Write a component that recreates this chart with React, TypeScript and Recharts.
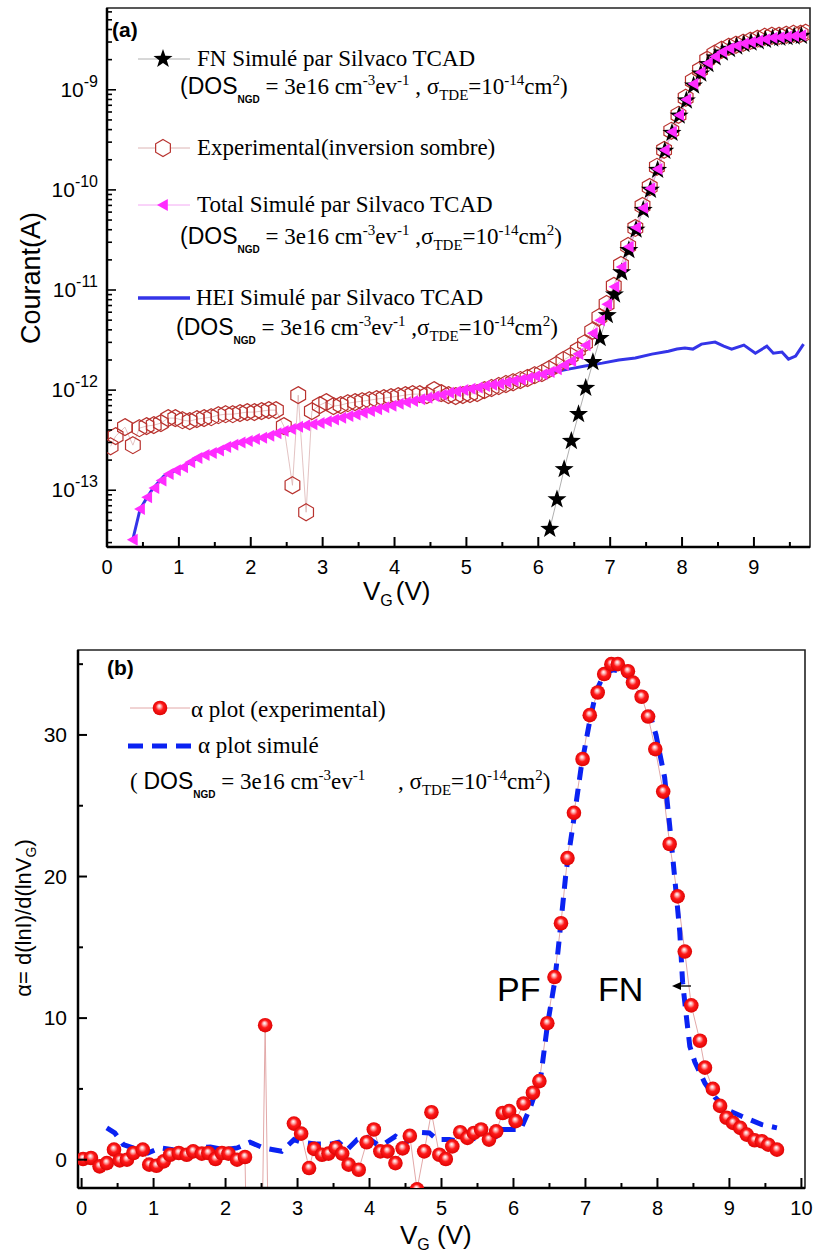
import React from 'react';
import { ComposedChart, Line, XAxis, YAxis, ReferenceArea } from 'recharts';

// ---------- (a) Courant (A) vs VG ----------
const expV = [0.05, 0.12, 0.25, 0.36, 0.45, 0.55, 0.65, 0.75, 0.85, 0.95, 1.05, 1.15, 1.25, 1.35, 1.45, 1.55, 1.65, 1.75, 1.85, 1.95, 2.05, 2.15, 2.25, 2.35, 2.46, 2.58, 2.66, 2.77, 2.85, 2.96, 3.05, 3.15, 3.25, 3.35, 3.45, 3.55, 3.65, 3.75, 3.85, 3.95, 4.05, 4.15, 4.25, 4.35, 4.45, 4.55, 4.65, 4.75, 4.85, 4.95, 5.05, 5.15, 5.25, 5.35, 5.45, 5.55, 5.65, 5.75, 5.85, 5.95, 6.05, 6.15, 6.25, 6.35, 6.45, 6.55, 6.65, 6.75, 6.85, 6.95, 7.05, 7.15, 7.25, 7.35, 7.45, 7.55, 7.65, 7.75, 7.85, 7.95, 8.05, 8.15, 8.25, 8.35, 8.45, 8.55, 8.65, 8.75, 8.85, 8.95, 9.05, 9.15, 9.25, 9.35, 9.45, 9.55, 9.65, 9.72];
const expI = [2.75e-13, 3.47e-13, 4.27e-13, 2.82e-13,
  4.17e-13, 4.37e-13, 4.47e-13, 4.68e-13, 5.25e-13, 5.25e-13, 5.01e-13, 4.9e-13, 5.13e-13, 5.25e-13, 5.37e-13, 5.62e-13, 5.75e-13, 5.75e-13, 5.89e-13, 6.03e-13, 6.03e-13, 6.17e-13, 6.31e-13, 6.31e-13,
  4.37e-13, 1.12e-13, 8.91e-13, 6.03e-14, 6.17e-13, 7.08e-13,
  7.59e-13, 6.92e-13, 7.08e-13, 7.41e-13, 7.59e-13, 7.76e-13, 7.94e-13, 8.13e-13, 8.32e-13, 8.51e-13,
  8.71e-13, 8.91e-13, 9.12e-13, 9.12e-13, 8.91e-13, 1.0e-12, 9.33e-13, 8.91e-13, 8.71e-13, 8.91e-13,
  9.12e-13, 9.33e-13, 1.0e-12, 1.05e-12, 1.1e-12, 1.15e-12, 1.2e-12, 1.26e-12, 1.32e-12, 1.41e-12,
  1.48e-12, 1.62e-12, 1.78e-12, 2.0e-12, 2.19e-12, 2.51e-12, 2.95e-12, 3.89e-12, 5.37e-12, 7.24e-12,
  1.1e-11, 1.78e-11, 2.75e-11, 4.17e-11, 6.92e-11, 1.07e-10, 1.7e-10, 2.51e-10, 3.89e-10, 5.62e-10,
  8.32e-10, 1.23e-9, 1.58e-9, 2.0e-9, 2.29e-9, 2.51e-9, 2.69e-9, 2.82e-9, 2.95e-9, 3.09e-9,
  3.24e-9, 3.39e-9, 3.47e-9, 3.47e-9, 3.55e-9, 3.63e-9, 3.63e-9, 3.72e-9];

const heiV = [0.36, 0.46, 0.55, 0.63, 0.79, 1.02, 1.3, 1.55, 1.77, 2.0, 2.23, 2.45, 2.7, 2.95, 3.16, 3.4, 3.63, 3.85, 4.09, 4.3, 4.56, 4.8, 5.02, 5.25, 5.49, 5.72, 5.95, 6.2, 6.42, 6.65, 6.89, 7.12, 7.35, 7.58, 7.81, 7.93, 8.04, 8.15, 8.27, 8.46, 8.58, 8.69, 8.86, 9.02, 9.18, 9.27, 9.39, 9.48, 9.58, 9.69];
const heiI = [3.24e-14, 6.46e-14, 8.32e-14, 1.02e-13, 1.38e-13, 1.66e-13, 2.19e-13, 2.51e-13, 2.88e-13, 3.16e-13, 3.47e-13, 3.89e-13, 4.37e-13, 4.68e-13, 5.13e-13, 5.62e-13, 6.17e-13, 6.76e-13, 7.41e-13, 7.94e-13, 8.71e-13, 9.55e-13, 1.02e-12, 1.1e-12, 1.17e-12, 1.26e-12, 1.38e-12, 1.51e-12, 1.62e-12, 1.74e-12, 1.86e-12, 2.0e-12, 2.09e-12, 2.29e-12, 2.45e-12, 2.57e-12, 2.63e-12, 2.57e-12, 2.88e-12, 3.02e-12, 2.75e-12, 2.57e-12, 2.82e-12, 2.34e-12, 2.75e-12, 2.34e-12, 2.4e-12, 2.04e-12, 2.19e-12, 2.88e-12];

const totV = [0.36, 0.46, 0.56, 0.66, 0.76, 0.86, 0.96, 1.06, 1.16, 1.26, 1.36, 1.46, 1.56, 1.66, 1.76, 1.86, 1.96, 2.06, 2.16, 2.26, 2.36, 2.46, 2.56, 2.66, 2.76, 2.86, 2.96, 3.06, 3.16, 3.26, 3.36, 3.46, 3.56, 3.66, 3.76, 3.86, 3.96, 4.06, 4.16, 4.26, 4.36, 4.46, 4.56, 4.66, 4.76, 4.86, 4.96, 5.06, 5.16, 5.26, 5.36, 5.46, 5.56, 5.66, 5.76, 5.86, 5.96, 6.06, 6.16, 6.26, 6.36, 6.46, 6.56, 6.66, 6.76, 6.86, 6.96, 7.06, 7.16, 7.26, 7.36, 7.46, 7.56, 7.66, 7.76, 7.86, 7.96, 8.06, 8.16, 8.26, 8.36, 8.46, 8.56, 8.66, 8.76, 8.86, 8.96, 9.06, 9.16, 9.26, 9.36, 9.46, 9.56, 9.66];
const totI = [3.2e-14, 6.5e-14, 8.5e-14, 1.05e-13, 1.25e-13, 1.45e-13, 1.58e-13, 1.7e-13, 1.9e-13, 2.1e-13,
  2.25e-13, 2.35e-13, 2.5e-13, 2.7e-13, 2.85e-13, 3.0e-13, 3.1e-13, 3.25e-13, 3.35e-13, 3.5e-13,
  3.7e-13, 3.9e-13, 4.1e-13, 4.3e-13, 4.45e-13, 4.55e-13, 4.7e-13, 4.9e-13, 5.1e-13, 5.3e-13,
  5.5e-13, 5.7e-13, 5.95e-13, 6.2e-13, 6.45e-13, 6.75e-13, 7.0e-13, 7.3e-13, 7.55e-13, 7.8e-13,
  8.1e-13, 8.4e-13, 8.7e-13, 9.0e-13, 9.4e-13, 9.7e-13, 1.0e-12, 1.03e-12, 1.06e-12, 1.1e-12,
  1.13e-12, 1.16e-12, 1.2e-12, 1.24e-12, 1.28e-12, 1.33e-12, 1.38e-12, 1.44e-12, 1.52e-12, 1.62e-12,
  1.78e-12, 1.95e-12, 2.3e-12, 2.8e-12, 3.7e-12, 5.0e-12, 7.2e-12, 1.08e-11, 1.7e-11, 2.7e-11,
  4.2e-11, 6.6e-11, 1.04e-10, 1.62e-10, 2.5e-10, 3.8e-10, 5.6e-10, 8.0e-10, 1.15e-9, 1.5e-9,
  1.85e-9, 2.15e-9, 2.4e-9, 2.6e-9, 2.75e-9, 2.9e-9, 3.0e-9, 3.1e-9, 3.2e-9, 3.3e-9,
  3.35e-9, 3.4e-9, 3.45e-9, 3.5e-9];

const fnV = [6.16, 6.26, 6.36, 6.46, 6.56, 6.66, 6.76, 6.86, 6.96, 7.06, 7.16, 7.26, 7.36, 7.46, 7.56, 7.66, 7.76, 7.86, 7.96, 8.06, 8.16, 8.26, 8.36, 8.46, 8.56, 8.66, 8.76, 8.86, 8.96, 9.06, 9.16, 9.26, 9.36, 9.46, 9.56, 9.66];
const fnI = [4.1e-14, 8.1e-14, 1.62e-13, 3.1e-13, 5.75e-13, 1.05e-12, 1.9e-12, 3.3e-12, 5.6e-12, 9.0e-12,
  1.5e-11, 2.5e-11, 4.0e-11, 6.3e-11, 1.0e-10, 1.58e-10, 2.45e-10, 3.7e-10, 5.5e-10, 7.8e-10,
  1.1e-9, 1.45e-9, 1.8e-9, 2.1e-9, 2.35e-9, 2.55e-9, 2.7e-9, 2.85e-9, 2.95e-9, 3.05e-9,
  3.15e-9, 3.25e-9, 3.3e-9, 3.35e-9, 3.4e-9, 3.45e-9];

const xTicksA = [0, 0.5, 1, 1.5, 2, 2.5, 3, 3.5, 4, 4.5, 5, 5.5, 6, 6.5, 7, 7.5, 8, 8.5, 9, 9.5];
const yTicksA = [3e-14, 4e-14, 5e-14, 6e-14, 7e-14, 8e-14, 9e-14,
  1e-13, 2e-13, 3e-13, 4e-13, 5e-13, 6e-13, 7e-13, 8e-13, 9e-13,
  1e-12, 2e-12, 3e-12, 4e-12, 5e-12, 6e-12, 7e-12, 8e-12, 9e-12,
  1e-11, 2e-11, 3e-11, 4e-11, 5e-11, 6e-11, 7e-11, 8e-11, 9e-11,
  1e-10, 2e-10, 3e-10, 4e-10, 5e-10, 6e-10, 7e-10, 8e-10, 9e-10,
  1e-9, 2e-9, 3e-9, 4e-9, 5e-9, 6e-9];

// ---------- (b) alpha = d(lnI)/d(lnVG) ----------
const alphaExpV = [0.02, 0.13, 0.25, 0.35, 0.45, 0.53, 0.63, 0.72, 0.85, 0.94, 1.04, 1.14, 1.23, 1.35, 1.46, 1.55, 1.67, 1.76, 1.86, 1.95, 2.04, 2.16, 2.27, 2.36, 2.45, 2.55, 2.65, 2.75, 2.85, 2.95, 3.05, 3.16, 3.23, 3.34, 3.43, 3.53, 3.62, 3.71, 3.85, 3.96, 4.06, 4.15, 4.25, 4.36, 4.46, 4.56, 4.66, 4.76, 4.86, 4.97, 5.06, 5.15, 5.26, 5.36, 5.45, 5.55, 5.66, 5.76, 5.85, 5.94, 6.03, 6.14, 6.27, 6.36, 6.47, 6.57, 6.66, 6.75, 6.84, 6.96, 7.06, 7.17, 7.26, 7.36, 7.45, 7.59, 7.66, 7.78, 7.87, 7.97, 8.08, 8.17, 8.28, 8.38, 8.47, 8.59, 8.66, 8.77, 8.87, 8.96, 9.05, 9.15, 9.24, 9.35, 9.45, 9.54, 9.66];
const alphaExp = [0.05, 0.12, -0.47, -0.24, 0.71, -0.05, 0, 0.47, 0.71, -0.35,
  -0.43, -0.12, 0.35, 0.47, 0.35, 0.59, 0.43, 0.47, 0.05, 0.47,
  0.43, 0, 0.19, -25, -25, 9.5, -25, -25, null, 2.55,
  1.84, -0.59, 0.76, 0.35, 0.43, 0.83, 0.43, -0.35, -0.71, 1.23,
  2.13, 0.59, 0.59, -0.24, 0.8, 1.68, -2.1, 0.59, 3.35, 0.35,
  0.05, 0.94, 1.94, 1.54, 1.89, 2.13, 1.42, 2.0, 3.3, 3.43,
  2.72, 3.97, 4.73, 5.55, 9.64, 12.9, 16.7, 21.3, 24.5, 28.3,
  31.4, 33, 34.3, 35, 35, 34.5, 33.7, 32.7, 31.3, 29,
  26, 22.3, 18.6, 14.7, 10.9, 8.4, 6.5, 5, 3.8, 2.96,
  2.6, 2.25, 1.77, 1.37, 1.3, 1.06, 0.71];

const alphaSimV = [0.35, 0.46, 0.58, 0.79, 0.92, 1.09, 1.27, 1.46, 1.65, 1.79, 1.97, 2.16, 2.34, 2.53, 2.78, 2.95, 3.06, 3.27, 3.46, 3.57, 3.69, 3.83, 3.97, 4.11, 4.22, 4.36, 4.5, 4.69, 4.83, 4.94, 5.11, 5.25, 5.43, 5.59, 5.76, 5.85, 6.1, 6.24, 6.38, 6.47, 6.57, 6.62, 6.73, 6.84, 6.94, 7.06, 7.15, 7.26, 7.38, 7.52, 7.68, 7.87, 7.98, 8.1, 8.17, 8.24, 8.31, 8.35, 8.4, 8.45, 8.52, 8.66, 8.8, 8.98, 9.17, 9.45, 9.66];
const alphaSim = [2.25, 1.9, 1.06, 0.7, 0.47, 0.83, 0.7, 0.59, 0.83, 0.9, 0.7, 0.83, 1.23, 0.83, 0.59, 1.42, 1.23, 1.1, 1.1, 1.23, 0.7, 1.42, 1.58, 1.06, 1.18, 1.65, 1.18, 1.94, 1.89, 1.42, 1.42, 1.3, 1.54, 1.3, 1.65, 2.13, 2.13, 3.78, 5.9, 9.45, 12.5, 14.8, 20.3, 24.1, 27.7, 31, 33.1, 34.3, 34.6, 34.5, 33.6, 31.9, 30, 27, 23.6, 19.9, 16.1, 12.5, 10.2, 8.0, 6.9, 5.4, 4.4, 3.5, 3.07, 2.48, 2.25];

const xTicksB = [0, 0.5, 1, 1.5, 2, 2.5, 3, 3.5, 4, 4.5, 5, 5.5, 6, 6.5, 7, 7.5, 8, 8.5, 9, 9.5, 10];
const yTicksB = [0, 5, 10, 15, 20, 25, 30, 35];

const expData = expV.map((v, k) => ({ v, i: expI[k] }));
const heiData = heiV.map((v, k) => ({ v, i: heiI[k] }));
const totData = totV.map((v, k) => ({ v, i: totI[k] }));
const fnData = fnV.map((v, k) => ({ v, i: fnI[k] }));
const alphaExpData = alphaExpV.map((v, k) => ({ v, a: alphaExp[k] }));
const alphaSimData = alphaSimV.map((v, k) => ({ v, a: alphaSim[k] }));

const serif = '"Liberation Serif", "Times New Roman", serif';
const sans = '"Liberation Sans", Arial, Helvetica, sans-serif';

const starPts = (cx: number, cy: number, R: number, r: number) => {
  const p: string[] = [];
  for (let k = 0; k < 10; k++) {
    const rad = k % 2 === 0 ? R : r;
    const ang = -Math.PI / 2 + (k * Math.PI) / 5;
    p.push(`${cx + rad * Math.cos(ang)},${cy + rad * Math.sin(ang)}`);
  }
  return p.join(' ');
};
const hexPts = (cx: number, cy: number, R: number) => {
  const p: string[] = [];
  for (let k = 0; k < 6; k++) {
    const ang = -Math.PI / 2 + (k * Math.PI) / 3;
    p.push(`${cx + R * Math.cos(ang)},${cy + R * Math.sin(ang)}`);
  }
  return p.join(' ');
};
const triPts = (cx: number, cy: number, s: number) =>
  `${cx - s},${cy} ${cx + s * 0.8},${cy - s} ${cx + s * 0.8},${cy + s}`;

const hexColor = '#b8322e';
const magenta = '#ff2cff';
const blue = '#3434e8';
const dashBlue = '#0a22f2';

const empty = (p: any, tag: string) => <g key={`${tag}${p.index}`} />;
const renderStar = (p: any) =>
  p.cx == null || p.cy == null ? empty(p, 's') : <polygon key={`s${p.index}`} points={starPts(p.cx, p.cy, 10, 4)} fill="#000" />;
const renderHex = (p: any) =>
  p.cx == null || p.cy == null ? empty(p, 'h') : <polygon key={`h${p.index}`} points={hexPts(p.cx, p.cy, 8.5)} fill="none" stroke={hexColor} strokeWidth={1.2} />;
const renderTri = (p: any) =>
  p.cx == null || p.cy == null ? empty(p, 't') : <polygon key={`t${p.index}`} points={triPts(p.cx, p.cy, 6)} fill={magenta} />;
const renderBall = (p: any) =>
  p.cx == null || p.cy == null || p.payload?.a == null || p.payload.a < -3
    ? empty(p, 'b')
    : <circle key={`b${p.index}`} cx={p.cx} cy={p.cy} r={7.3} fill="url(#ballGrad)" />;

const XTick = ({ x, y, payload }: any) => {
  const v = payload.value;
  const major = Math.abs(v - Math.round(v)) < 1e-6;
  return (
    <g>
      <line x1={x} x2={x} y1={y} y2={y - (major ? 10 : 5)} stroke="#000" strokeWidth={2} />
      {major && (
        <text x={x} y={y + 27} textAnchor="middle" fontSize={20} fontFamily={sans} fill="#000">{v}</text>
      )}
    </g>
  );
};

const LogTick = ({ x, y, payload }: any) => {
  const lg = Math.log10(payload.value);
  const e = Math.round(lg);
  const major = Math.abs(lg - e) < 1e-6;
  return (
    <g>
      <line x1={x} x2={x + (major ? 9 : 5)} y1={y} y2={y} stroke="#000" strokeWidth={1.6} />
      {major && (
        <text x={x - 9} y={y + 7} textAnchor="end" fontSize={21} fontFamily={sans} fill="#000">
          10<tspan dy={-10} fontSize={16}>{String(e)}</tspan>
        </text>
      )}
    </g>
  );
};

const LinTick = ({ x, y, payload }: any) => {
  const v = payload.value;
  const major = v % 10 === 0;
  return (
    <g>
      <line x1={x} x2={x + (major ? 9 : 5)} y1={y} y2={y} stroke="#000" strokeWidth={2} />
      {major && (
        <text x={x - 11} y={y + 7} textAnchor="end" fontSize={21} fontFamily={sans} fill="#000">{v}</text>
      )}
    </g>
  );
};

const Sup = ({ children, size = 15, rise = 9, family }: any) => (
  <span style={{ fontSize: size, position: 'relative', top: -rise, fontFamily: family }}>{children}</span>
);
const Sub = ({ children, size = 15, drop = 6, family, bold }: any) => (
  <span style={{ fontSize: size, position: 'relative', top: drop, fontFamily: family, fontWeight: bold ? 'bold' : 'normal' }}>{children}</span>
);

const abs = (left: number, top: number, extra: React.CSSProperties = {}): React.CSSProperties => ({
  position: 'absolute', left, top, whiteSpace: 'nowrap', color: '#000', ...extra,
});
const legendText: React.CSSProperties = { fontFamily: serif, fontSize: 23, lineHeight: '23px' };

const DosLine = ({ left, top, comma }: { left: number; top: number; comma: string }) => (
  <div style={abs(left, top, legendText)}>
    <span style={{ fontFamily: sans, fontSize: 23 }}>(DOS</span>
    <Sub size={10} drop={9} family={sans} bold>NGD</Sub>
    {' = 3e16 cm'}
    <Sup>-3</Sup>ev<Sup>-1</Sup>
    {comma}σ<Sub>TDE</Sub>=10<Sup>-14</Sup>cm<Sup>2</Sup>)
  </div>
);

export default function App() {
  return (
    <div style={{ position: 'absolute', left: 0, top: 0, width: 813, height: 1254, background: '#fff', overflow: 'hidden' }}>
      {/* (a) */}
      <div style={{ position: 'absolute', left: 0, top: 0 }}>
        <ComposedChart width={813} height={600} margin={{ top: 8, right: 3, bottom: 0, left: 0 }}>
          <XAxis type="number" dataKey="v" domain={[0, 9.78]} ticks={xTicksA} interval={0} allowDataOverflow
            height={53} tickSize={0} tickMargin={0} tickLine={false}
            axisLine={{ stroke: '#000', strokeWidth: 2.5 }} tick={(p: any) => <XTick {...p} />} />
          <YAxis type="number" scale="log" domain={[2.71e-14, 6.56e-9]} ticks={yTicksA} interval={0} allowDataOverflow
            width={107} tickSize={0} tickMargin={0} tickLine={false}
            axisLine={{ stroke: '#000', strokeWidth: 2.5 }} tick={(p: any) => <LogTick {...p} />} />
          <ReferenceArea x1={0} x2={9.78} y1={2.71e-14} y2={6.56e-9} fill="none" stroke="#222" strokeWidth={1.6} />
          <Line data={expData} dataKey="i" type="linear" stroke="#dcb4b4" strokeWidth={0.8}
            dot={renderHex} activeDot={false} isAnimationActive={false} />
          <Line data={fnData} dataKey="i" type="linear" stroke="#b0b0b0" strokeWidth={1}
            dot={renderStar} activeDot={false} isAnimationActive={false} />
          <Line data={totData} dataKey="i" type="linear" stroke="#f4a8f4" strokeWidth={1}
            dot={renderTri} activeDot={false} isAnimationActive={false} />
          <Line data={heiData} dataKey="i" type="linear" stroke={blue} strokeWidth={3}
            dot={false} activeDot={false} isAnimationActive={false} />
        </ComposedChart>
      </div>

      {/* (b) */}
      <div style={{ position: 'absolute', left: 0, top: 620 }}>
        <ComposedChart width={813} height={634} margin={{ top: 30, right: 8, bottom: 0, left: 0 }}>
          <defs>
            <radialGradient id="ballGrad" cx="0.5" cy="0.5" r="0.55" fx="0.45" fy="0.35">
              <stop offset="0%" stopColor="#ffffff" />
              <stop offset="20%" stopColor="#ffb4b4" />
              <stop offset="48%" stopColor="#ff1a1a" />
              <stop offset="100%" stopColor="#d80000" />
            </radialGradient>
          </defs>
          <XAxis type="number" dataKey="v" domain={[-0.05, 10.05]} ticks={xTicksB} interval={0} allowDataOverflow
            height={66} tickSize={0} tickMargin={0} tickLine={false}
            axisLine={{ stroke: '#000', strokeWidth: 2.5 }} tick={(p: any) => <XTick {...p} />} />
          <YAxis type="number" domain={[-2, 36]} ticks={yTicksB} interval={0} allowDataOverflow
            width={78} tickSize={0} tickMargin={0} tickLine={false}
            axisLine={{ stroke: '#000', strokeWidth: 2.5 }} tick={(p: any) => <LinTick {...p} />} />
          <ReferenceArea x1={-0.05} x2={10.05} y1={-2} y2={36} fill="none" stroke="#222" strokeWidth={1.6} />
          <Line data={alphaExpData} dataKey="a" type="linear" stroke="#e2a8a8" strokeWidth={1}
            dot={renderBall} activeDot={false} isAnimationActive={false} />
          <Line data={alphaSimData} dataKey="a" type="linear" stroke={dashBlue} strokeWidth={5}
            strokeDasharray="13 9" dot={false} activeDot={false} isAnimationActive={false} />
        </ComposedChart>
      </div>

      {/* legend symbols and annotations */}
      <svg width={813} height={1254} style={{ position: 'absolute', left: 0, top: 0, pointerEvents: 'none' }}>
        <defs>
          <radialGradient id="ballGradLeg" cx="0.5" cy="0.5" r="0.55" fx="0.45" fy="0.35">
            <stop offset="0%" stopColor="#ffffff" />
            <stop offset="20%" stopColor="#ffb4b4" />
            <stop offset="48%" stopColor="#ff1a1a" />
            <stop offset="100%" stopColor="#d80000" />
          </radialGradient>
        </defs>
        <line x1={138} x2={190} y1={59} y2={59} stroke="#b0b0b0" strokeWidth={1} />
        <polygon points={starPts(163, 59, 10, 4)} fill="#000" />
        <line x1={138} x2={190} y1={148} y2={148} stroke="#dcb4b4" strokeWidth={1} />
        <polygon points={hexPts(163, 148, 8.5)} fill="#fff" stroke={hexColor} strokeWidth={1.2} />
        <line x1={138} x2={190} y1={205} y2={205} stroke="#f4a8f4" strokeWidth={1} />
        <polygon points={triPts(163, 205, 6)} fill={magenta} />
        <line x1={138} x2={190} y1={298} y2={298} stroke={blue} strokeWidth={3.5} />

        <line x1={130} x2={190} y1={708} y2={708} stroke="#e2a8a8" strokeWidth={1} />
        <circle cx={160} cy={708} r={7.3} fill="url(#ballGradLeg)" />
        <line x1={128} x2={192} y1={746} y2={746} stroke={dashBlue} strokeWidth={5} strokeDasharray="15 9" />

        <line x1={675} x2={691} y1={986} y2={986} stroke="#000" strokeWidth={1.3} />
        <polygon points="672,986 681,982 681,990" fill="#000" />
      </svg>

      {/* panel (a) texts */}
      <div style={abs(112, 19, { fontFamily: sans, fontSize: 21, fontWeight: 'bold', lineHeight: '21px' })}>(a)</div>
      <div style={abs(197, 47, legendText)}>FN Simulé par Silvaco TCAD</div>
      <DosLine left={180} top={75} comma=" , " />
      <div style={abs(197, 136, legendText)}>Experimental(inversion sombre)</div>
      <div style={abs(197, 193, legendText)}>Total Simulé par Silvaco TCAD</div>
      <DosLine left={180} top={225} comma=" ," />
      <div style={abs(196, 286, legendText)}>HEI Simulé par Silvaco TCAD</div>
      <DosLine left={176} top={316} comma=" ," />
      <div style={abs(31, 278, { fontFamily: sans, fontSize: 27, lineHeight: '27px', transform: 'translate(-50%, -50%) rotate(-90deg)' })}>
        Courant(A)
      </div>
      <div style={abs(363, 578, { fontFamily: sans, fontSize: 26, lineHeight: '26px' })}>
        V<Sub size={16} drop={6} family={sans}>G</Sub><span style={{ marginLeft: 3 }}>(V)</span>
      </div>

      {/* panel (b) texts */}
      <div style={abs(107, 657, { fontFamily: sans, fontSize: 21, fontWeight: 'bold', lineHeight: '21px' })}>(b)</div>
      <div style={abs(191, 698, legendText)}>α plot (experimental)</div>
      <div style={abs(198, 734, legendText)}>α plot simulé</div>
      <div style={abs(130, 770, legendText)}>
        {'( '}<span style={{ fontFamily: sans, fontSize: 23 }}>DOS</span>
        <Sub size={10} drop={9} family={sans} bold>NGD</Sub>
        {' = 3e16 cm'}<Sup>-3</Sup>ev<Sup>-1</Sup>
      </div>
      <div style={abs(398, 770, legendText)}>
        , σ<Sub>TDE</Sub>=10<Sup>-14</Sup>cm<Sup>2</Sup>)
      </div>
      <div style={abs(25, 918, { fontFamily: sans, fontSize: 22, lineHeight: '22px', transform: 'translate(-50%, -50%) rotate(-90deg)' })}>
        α= d(lnI)/d(lnV<Sub size={14} drop={5} family={sans}>G</Sub>)
      </div>
      <div style={abs(400, 1222, { fontFamily: sans, fontSize: 26, lineHeight: '26px' })}>
        V<Sub size={16} drop={6} family={sans}>G</Sub> (V)
      </div>
      <div style={abs(497, 972, { fontFamily: sans, fontSize: 34, lineHeight: '34px' })}>PF</div>
      <div style={abs(598, 972, { fontFamily: sans, fontSize: 34, lineHeight: '34px' })}>FN</div>
    </div>
  );
}
